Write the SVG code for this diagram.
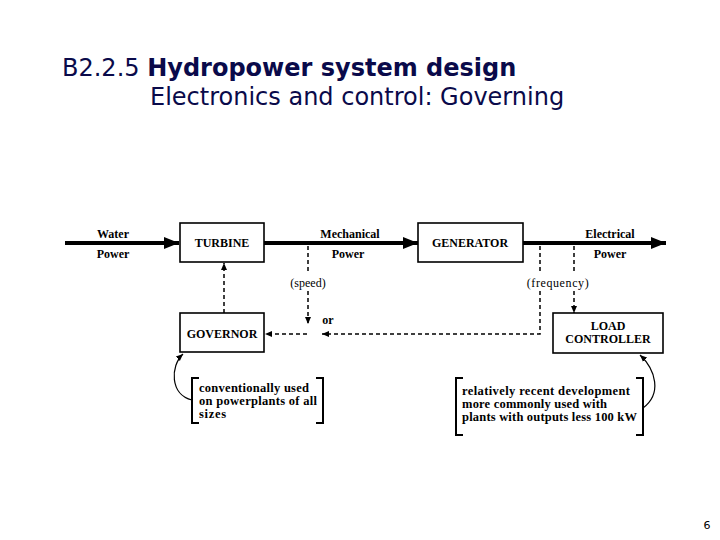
<svg xmlns="http://www.w3.org/2000/svg" width="720" height="540" viewBox="0 0 720 540">
<style>
.title{font-family:"DejaVu Sans",Verdana,sans-serif;font-size:24px;fill:#0a0a4a}
.box{fill:#fff;stroke:#000;stroke-width:1.6}
.lbl{font-family:"Liberation Serif","Times New Roman",serif;font-weight:bold;font-size:12px;fill:#000}
.reg{font-family:"Liberation Serif","Times New Roman",serif;font-size:12px;fill:#000}
.note{font-family:"Liberation Serif","Times New Roman",serif;font-weight:bold;font-size:12.5px;fill:#000}
.thick{stroke:#000;stroke-width:4;fill:none}
.dash{stroke:#000;stroke-width:1.5;stroke-dasharray:4 3;fill:none}
.thin{stroke:#000;stroke-width:1.2;fill:none}
.brk{stroke:#000;stroke-width:2;fill:none}
</style>
<defs>
<marker id="big" markerUnits="userSpaceOnUse" markerWidth="16" markerHeight="12" refX="15" refY="6" orient="auto">
<path d="M0,0 L15,6 L0,12 Z" fill="#000"/>
</marker>
<marker id="sm" markerUnits="userSpaceOnUse" markerWidth="8" markerHeight="8" refX="7" refY="4" orient="auto">
<path d="M0,1 L7,4 L0,7 Z" fill="#000"/>
</marker>
</defs>
<rect width="720" height="540" fill="#fff"/>
<text class="title" x="62" y="76">B2.2.5 <tspan font-weight="bold">Hydropower system design</tspan></text>
<text class="title" x="150" y="105">Electronics and control: Governing</text>

<g id="connectors">
<line class="thick" x1="65" y1="243" x2="179" y2="243" marker-end="url(#big)"/>
<line class="thick" x1="264" y1="243" x2="418" y2="243" marker-end="url(#big)"/>
<line class="thick" x1="523" y1="243" x2="666" y2="243" marker-end="url(#big)"/>
<line class="dash" x1="224" y1="313" x2="224" y2="263" marker-end="url(#sm)"/>
<line class="dash" x1="308" y1="246" x2="308" y2="274"/>
<line class="dash" x1="308" y1="291" x2="308" y2="324" marker-end="url(#sm)"/>
<line class="dash" x1="540" y1="246" x2="540" y2="274"/>
<polyline class="dash" points="540,291 540,334 322,334" marker-end="url(#sm)"/>
<line class="dash" x1="307" y1="334" x2="265" y2="334" marker-end="url(#sm)"/>
<line class="dash" x1="574" y1="246" x2="574" y2="274"/>
<line class="dash" x1="574" y1="291" x2="574" y2="313" marker-end="url(#sm)"/>
<path class="thin" d="M192,400 C170,395 170,366 183,354" marker-end="url(#sm)"/>
<path class="thin" d="M643,408 C662,394 656,370 640,355" marker-end="url(#sm)"/>
</g>

<g id="labels">
<text class="lbl" x="113" y="238" text-anchor="middle">Water</text>
<text class="lbl" x="113" y="258" text-anchor="middle">Power</text>
<text class="lbl" x="350" y="238" text-anchor="middle">Mechanical</text>
<text class="lbl" x="348" y="258" text-anchor="middle">Power</text>
<text class="lbl" x="610" y="238" text-anchor="middle">Electrical</text>
<text class="lbl" x="610" y="258" text-anchor="middle">Power</text>
<text class="reg" x="308" y="287" text-anchor="middle">(speed)</text>
<text class="lbl" x="328" y="324" text-anchor="middle">or</text>
<text class="reg" x="558" y="287" text-anchor="middle" letter-spacing="0.6">(frequency)</text>
</g>

<g id="turbine">
<rect class="box" x="180" y="223" width="84" height="39"/>
<text class="lbl" x="222" y="247" text-anchor="middle">TURBINE</text>
</g>
<g id="generator">
<rect class="box" x="418" y="223" width="105" height="39"/>
<text class="lbl" x="470" y="247" text-anchor="middle">GENERATOR</text>
</g>
<g id="governor">
<rect class="box" x="180" y="313" width="84" height="39"/>
<text class="lbl" x="222" y="338" text-anchor="middle">GOVERNOR</text>
</g>
<g id="load-controller">
<rect class="box" x="553" y="313" width="110" height="40"/>
<text class="lbl" x="608" y="330" text-anchor="middle">LOAD</text>
<text class="lbl" x="608" y="343" text-anchor="middle">CONTROLLER</text>
</g>

<g id="note-left">
<path class="brk" d="M199,378 H192 V423 H199"/>
<path class="brk" d="M316,378 H323 V423 H316"/>
<text class="note" x="199" y="392" textLength="110" lengthAdjust="spacing">conventionally used</text>
<text class="note" x="199" y="405" textLength="118" lengthAdjust="spacing">on powerplants of all</text>
<text class="note" x="199" y="418" textLength="27" lengthAdjust="spacing">sizes</text>
</g>
<g id="note-right">
<path class="brk" d="M463,378 H456 V435 H463"/>
<path class="brk" d="M636,378 H643 V435 H636"/>
<text class="note" x="462" y="395" textLength="168" lengthAdjust="spacing">relatively recent development</text>
<text class="note" x="462" y="408" textLength="145" lengthAdjust="spacing">more commonly used with</text>
<text class="note" x="462" y="421" textLength="175" lengthAdjust="spacing">plants with outputs less 100 kW</text>
</g>

<text x="707" y="529" font-family="DejaVu Sans,Verdana,sans-serif" font-size="11" text-anchor="middle" fill="#000">6</text>
</svg>
